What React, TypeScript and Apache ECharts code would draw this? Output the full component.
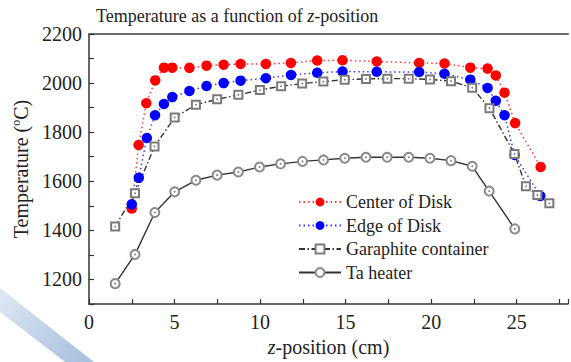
import React, { useEffect, useRef } from 'react';
import * as echarts from 'echarts';

const zCenter = [2.5, 2.9, 3.35, 3.87, 4.38, 4.87, 5.87, 6.87, 7.87, 8.86, 10.34, 11.8, 13.34, 14.82, 16.82, 19.3, 20.78, 22.29, 23.3, 23.78, 24.29, 24.91, 26.4];
const tCenter = [1489, 1748, 1918, 2011, 2063, 2063, 2062, 2071, 2075, 2078, 2078, 2082, 2092, 2093, 2088, 2082, 2080, 2063, 2059, 2031, 1961, 1837, 1658];
const zEdge = [2.5, 2.91, 3.38, 3.86, 4.38, 4.87, 5.87, 6.87, 7.87, 8.86, 10.34, 11.81, 13.34, 14.82, 16.82, 19.3, 20.78, 22.29, 23.3, 23.78, 24.29, 24.88, 26.38];
const tEdge = [1506, 1614, 1776, 1869, 1915, 1943, 1968, 1988, 2000, 2010, 2020, 2033, 2042, 2047, 2046, 2045, 2038, 2014, 1980, 1928, 1869, 1707, 1540];
const zGraphite = [1.53, 2.69, 3.83, 5.01, 6.25, 7.49, 8.73, 9.99, 11.23, 12.46, 13.7, 14.95, 16.19, 17.44, 18.69, 19.93, 21.16, 22.4, 23.41, 24.87, 25.54, 26.21, 26.91];
const tGraphite = [1416, 1551, 1742, 1860, 1912, 1934, 1952, 1972, 1987, 1998, 2006, 2014, 2017, 2018, 2018, 2015, 2008, 1981, 1898, 1711, 1580, 1544, 1510];
const zTa = [1.53, 2.69, 3.85, 5.01, 6.25, 7.49, 8.73, 9.97, 11.2, 12.48, 13.71, 14.95, 16.19, 17.43, 18.69, 19.93, 21.16, 22.4, 23.39, 24.89];
const tTa = [1183, 1302, 1473, 1557, 1604, 1625, 1638, 1658, 1671, 1681, 1687, 1694, 1698, 1698, 1698, 1694, 1684, 1661, 1560, 1406];

const seriesNames = ['Center of Disk', 'Edge of Disk', 'Garaphite container', 'Ta heater'];
const titleText = 'Temperature as a function of ';
const xName = '-position (cm)';
const yName = 'Temperature (';

const FONT = 'Liberation Serif';
const TXT = '#222';
const base = { fontFamily: FONT, fontWeight: 'normal' as const, fontStyle: 'normal' as const, color: TXT };

function pair(xs: number[], ys: number[]) {
  return xs.map((x, i) => [x, ys[i]]);
}

export default function App() {
  const ref = useRef<HTMLDivElement>(null);
  useEffect(() => {
    const chart = echarts.init(ref.current!, null, { renderer: 'svg' });
    const option: any = {
      animation: false,
      backgroundColor: '#fff',
      textStyle: { ...base },
      title: {
        text: '{a|' + titleText + '}{i|z}{a|-position}',
        left: 96,
        top: 7,
        padding: 0,
        textStyle: {
          ...base,
          rich: {
            a: { ...base, fontSize: 18 },
            i: { ...base, fontSize: 18, fontStyle: 'italic' },
          },
        },
      },
      graphic: [
        {
          type: 'polygon',
          silent: true,
          shape: { points: [[0, 288], [94, 362], [65, 362], [0, 312]] },
          style: {
            fill: new echarts.graphic.LinearGradient(0, 0, 1, 1, [
              { offset: 0, color: '#e0e9f4' },
              { offset: 1, color: '#a6bedd' },
            ]),
          },
        },
      ],
      legend: {
        orient: 'vertical',
        left: 298,
        top: 192,
        padding: 0,
        itemWidth: 42,
        itemHeight: 11,
        itemGap: 3.5,
        selectedMode: false,
        data: seriesNames,
        textStyle: { ...base, fontSize: 18, lineHeight: 20 },
      },
      grid: { left: 89, top: 34, width: 490, height: 273 },
      xAxis: [
        {
          type: 'value',
          min: 0,
          max: 28,
          interval: 2.5,
          name: '{i|z}{a|' + xName + '}',
          nameLocation: 'middle',
          nameGap: 33,
          nameTextStyle: {
            ...base,
            fontSize: 20,
            rich: {
              a: { ...base, fontSize: 20 },
              i: { ...base, fontSize: 20, fontStyle: 'italic' },
            },
          },
          axisLine: { show: true, onZero: false, lineStyle: { color: '#333', width: 1.5 } },
          axisTick: { show: true, inside: true, length: 5, lineStyle: { color: '#333', width: 1.2 } },
          axisLabel: {
            ...base,
            fontSize: 20,
            margin: 8,
            formatter: (v: number) => (v % 5 === 0 ? String(v) : ''),
          },
          splitLine: { show: false },
        },
        {
          type: 'value',
          position: 'top',
          min: 0,
          max: 28,
          axisLine: { show: true, onZero: false, lineStyle: { color: '#6a6a6a', width: 2 } },
          axisTick: { show: false },
          axisLabel: { show: false },
          splitLine: { show: false },
        },
      ],
      yAxis: {
        type: 'value',
        min: 1100,
        max: 2200,
        interval: 100,
        name: '{a|' + yName + '}{s|o}{a|C)}',
        nameLocation: 'middle',
        nameGap: 56,
        nameRotate: 90,
        nameTextStyle: {
          ...base,
          fontSize: 20,
          rich: {
            a: { ...base, fontSize: 20, lineHeight: 22 },
            s: { ...base, fontSize: 12, verticalAlign: 'top', lineHeight: 12 },
          },
        },
        axisLine: { show: true, lineStyle: { color: '#333', width: 1.5 } },
        axisTick: { show: true, inside: true, length: 5, lineStyle: { color: '#333', width: 1.2 } },
        axisLabel: {
          ...base,
          fontSize: 20,
          margin: 7,
          formatter: (v: number) => (v % 200 === 0 ? String(v) : ''),
        },
        splitLine: { show: false },
      },
      series: [
        {
          name: seriesNames[0],
          type: 'line',
          data: pair(zCenter, tCenter),
          symbol: 'circle',
          symbolSize: 10.5,
          itemStyle: { color: '#ff0000' },
          lineStyle: { color: '#ff3a3a', width: 1.5, type: [1.5, 3] },
        },
        {
          name: seriesNames[1],
          type: 'line',
          data: pair(zEdge, tEdge),
          symbol: 'circle',
          symbolSize: 10.5,
          itemStyle: { color: '#0000ff' },
          lineStyle: { color: '#3a3aff', width: 1.5, type: [1.5, 3] },
        },
        {
          name: seriesNames[2],
          type: 'line',
          data: pair(zGraphite, tGraphite),
          symbol: 'emptyRect',
          symbolSize: 8,
          itemStyle: { color: '#7a7a7a', borderWidth: 1.3 },
          lineStyle: { color: '#333', width: 1.4, type: [6, 2.5, 1.5, 2.5] },
        },
        {
          name: seriesNames[3],
          type: 'line',
          data: pair(zTa, tTa),
          symbol: 'emptyCircle',
          symbolSize: 9,
          itemStyle: { color: '#8a8a8a', borderWidth: 1.3 },
          lineStyle: { color: '#333', width: 1.4, type: 'solid' },
        },
        {
          name: 'centre dots',
          type: 'scatter',
          silent: true,
          z: 5,
          data: pair(zGraphite, tGraphite).concat(pair(zTa, tTa)),
          symbol: 'circle',
          symbolSize: 1.8,
          itemStyle: { color: '#555' },
        },
      ],
    };
    chart.setOption(option);
    return () => chart.dispose();
  }, []);
  return <div ref={ref} style={{ position: 'fixed', left: 0, top: 0, width: 571, height: 362 }} />;
}
